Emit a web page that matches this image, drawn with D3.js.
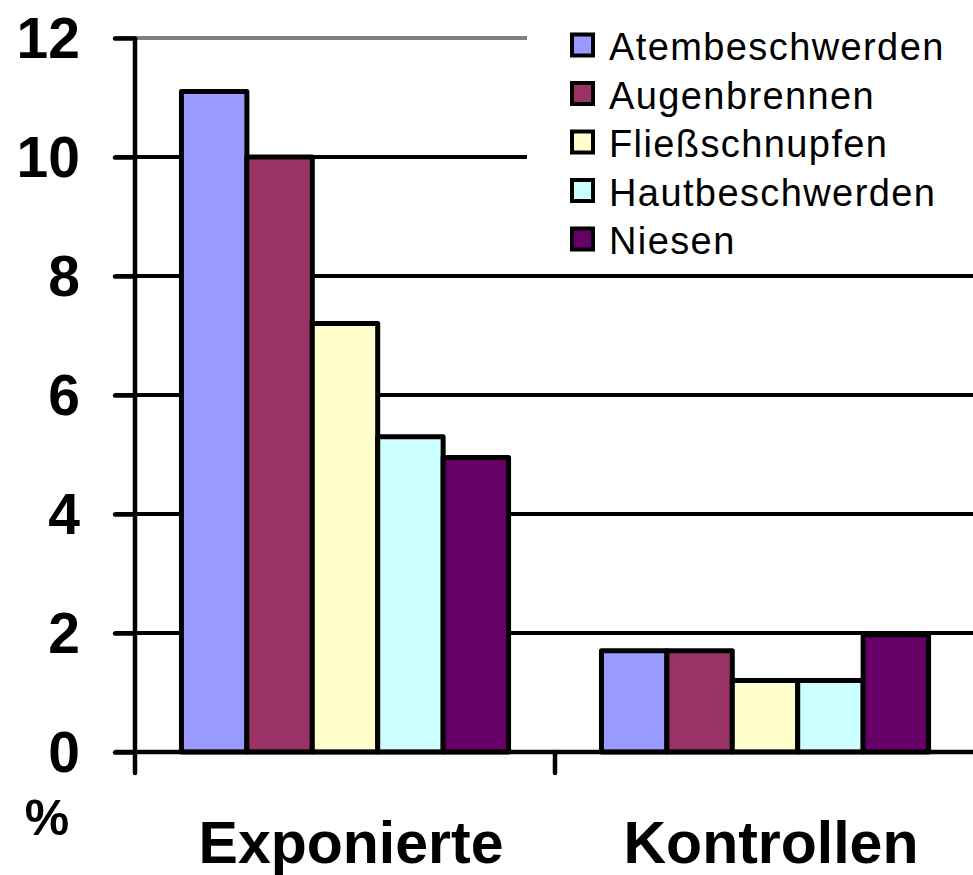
<!DOCTYPE html>
<html><head><meta charset="utf-8">
<script src="https://cdn.jsdelivr.net/npm/d3@7"></script>
<style>html,body{margin:0;padding:0;background:#fff;}svg{display:block;}</style>
</head><body>
<script>
const categories = ["Exponierte", "Kontrollen"];
const seriesNames = ["Atembeschwerden", "Augenbrennen", "Fließschnupfen", "Hautbeschwerden", "Niesen"];
const seriesColors = ["#9999FF", "#993366", "#FFFFCC", "#CCFFFF", "#660066"];
const valuesAtembeschwerden = [11.1, 1.7];
const valuesAugenbrennen = [10.0, 1.7];
const valuesFliessschnupfen = [7.2, 1.2];
const valuesHautbeschwerden = [5.3, 1.2];
const valuesNiesen = [4.95, 1.97];
const yTicks = [0, 2, 4, 6, 8, 10, 12];
const yLabel = "%";

const seriesValues = [valuesAtembeschwerden, valuesAugenbrennen, valuesFliessschnupfen, valuesHautbeschwerden, valuesNiesen];

const W = 973, H = 875;
const svg = d3.select("body").append("svg").attr("width", W).attr("height", H);

const y = d3.scaleLinear().domain([0, 12]).range([752, 38]);
const x0 = d3.scaleBand().domain(categories).range([135, 975]).padding(0);
const x1 = d3.scaleBand().domain(seriesNames).range([0, x0.bandwidth()]).paddingInner(0).paddingOuter(0.71);

// gridlines
svg.append("g").selectAll("line").data(yTicks.filter(d => d > 0)).join("line")
  .attr("x1", 115).attr("x2", W).attr("y1", d => y(d)).attr("y2", d => y(d))
  .attr("stroke", d => d === 12 ? "#808080" : "#000").attr("stroke-width", 4);

// legend background covering gridlines
svg.append("rect").attr("x", 527).attr("y", 0).attr("width", W - 527).attr("height", 262).attr("fill", "#fff");

// bars
const groups = svg.append("g").selectAll("g").data(categories).join("g")
  .attr("transform", d => `translate(${x0(d)},0)`);
groups.selectAll("rect").data((c, ci) => seriesNames.map((s, si) => ({s, si, v: seriesValues[si][ci]}))).join("rect")
  .attr("x", d => x1(d.s)).attr("width", x1.bandwidth())
  .attr("y", d => y(d.v)).attr("height", d => y(0) - y(d.v))
  .attr("fill", d => seriesColors[d.si]).attr("stroke", "#000").attr("stroke-width", 5)
  .attr("stroke-linejoin", "round");

// y axis
const yAxis = d3.axisLeft(y).tickValues(yTicks).tickSize(20).tickPadding(35).tickFormat(d3.format("d"));
const ya = svg.append("g").attr("transform", "translate(135,0)").call(yAxis);
ya.select(".domain").attr("stroke", "#000").attr("stroke-width", 4.5).attr("d", `M0,${y(12)}V${y(0)}`);
ya.selectAll(".tick line").attr("stroke", "#000").attr("stroke-width", 4.5).attr("stroke-linecap", "round");
ya.selectAll(".tick text").attr("font-family", "Liberation Sans, Arial, sans-serif").attr("font-weight", "bold")
  .attr("font-size", 57).attr("fill", "#000").attr("dy", "0.34em");

// x axis
const xa = svg.append("g").attr("transform", `translate(0,${y(0)})`);
xa.append("line").attr("x1", 115).attr("x2", W).attr("y1", 0).attr("y2", 0).attr("stroke", "#000").attr("stroke-width", 4.5);
xa.selectAll("line.tk").data(categories).join("line").attr("class", "tk")
  .attr("x1", d => x0(d)).attr("x2", d => x0(d)).attr("y1", 0).attr("y2", 21)
  .attr("stroke", "#000").attr("stroke-width", 4.5).attr("stroke-linecap", "round");
xa.selectAll("text").data(categories).join("text")
  .attr("x", d => x0(d) + x0.bandwidth() / 2 + 6).attr("y", 111)
  .attr("text-anchor", "middle").attr("font-family", "Liberation Sans, Arial, sans-serif")
  .attr("font-weight", "bold").attr("font-size", 59).text(d => d);

svg.append("text").attr("x", 47).attr("y", 835).attr("text-anchor", "middle")
  .attr("font-family", "Liberation Sans, Arial, sans-serif").attr("font-weight", "bold")
  .attr("font-size", 50).text(yLabel);

// legend
const lg = svg.append("g");
const rowY = d3.scaleLinear().domain([0, 4]).range([45, 239]);
const items = lg.selectAll("g").data(seriesNames).join("g").attr("transform", (d, i) => `translate(0,${rowY(i)})`);
items.append("rect").attr("x", 572).attr("y", -10.5).attr("width", 21).attr("height", 21)
  .attr("fill", (d, i) => seriesColors[i]).attr("stroke", "#000").attr("stroke-width", 4);
items.append("text").attr("x", 609).attr("y", 15).attr("font-family", "Liberation Sans, Arial, sans-serif")
  .attr("font-size", 38).attr("letter-spacing", 1.4).text(d => d);
</script>
</body></html>
